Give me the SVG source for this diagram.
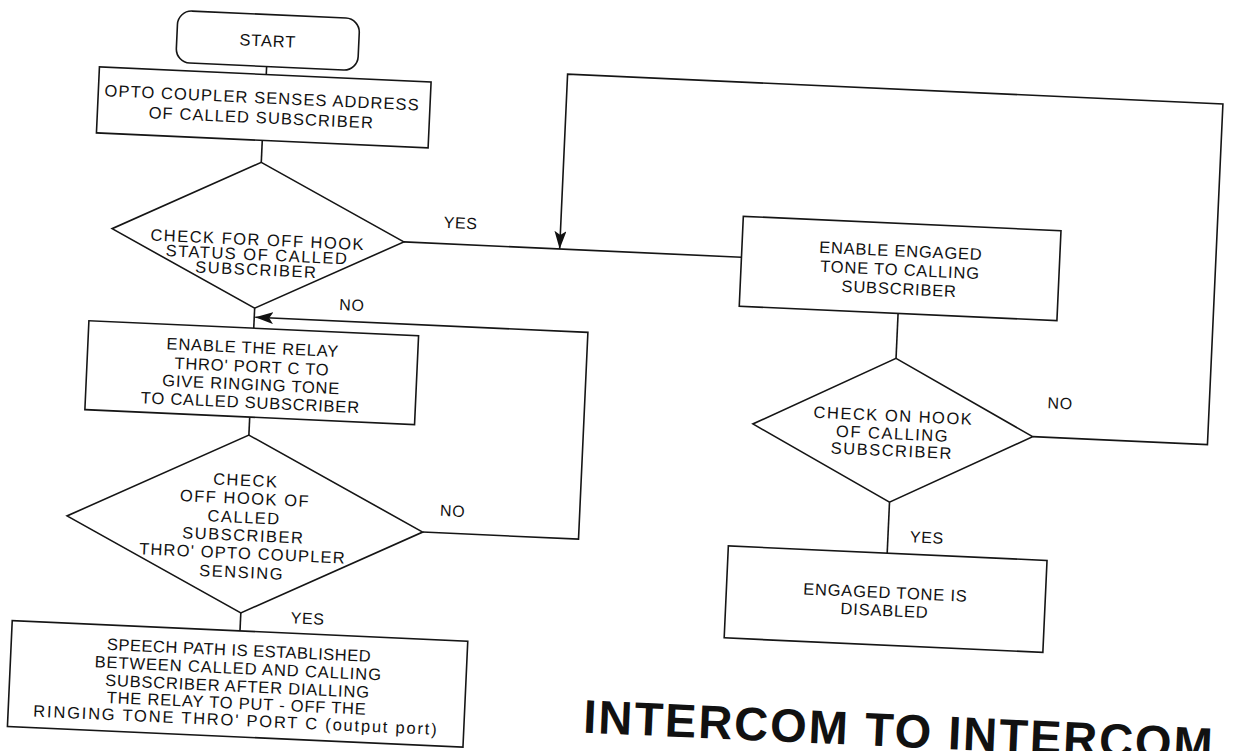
<svg xmlns="http://www.w3.org/2000/svg" width="1246" height="751" viewBox="0 0 1246 751">
  <defs>
    <style>
      .box { fill: none; stroke: #151515; stroke-width: 1.6; }
      .ln { fill: none; stroke: #151515; stroke-width: 1.6; }
      .t { font-family: "Liberation Sans", Arial, sans-serif; font-size: 16.5px; fill: #111; text-anchor: middle; letter-spacing: 0.8px; }
      .dt { letter-spacing: 1.5px; }
      .lbl { font-family: "Liberation Sans", Arial, sans-serif; font-size: 16px; fill: #111; text-anchor: middle; letter-spacing: 0.6px; }
      .title { font-family: "Liberation Sans", Arial, sans-serif; font-size: 47px; font-weight: bold; fill: #111; letter-spacing: 2px; }
    </style>
    <marker id="arrow" viewBox="0 0 18 12" refX="18" refY="6" markerWidth="18" markerHeight="12" markerUnits="userSpaceOnUse" orient="auto">
      <path d="M0,0 L18,6 L0,12 L4,6 z" fill="#111"/>
    </marker>
  </defs>
  <rect x="0" y="0" width="1246" height="751" fill="#ffffff"/>
  <g transform="rotate(2.6 623 375)">
    <g id="connectors">
      <line class="ln" x1="253" y1="83" x2="253" y2="91"/>
      <line class="ln" x1="252" y1="157" x2="252" y2="179"/>
      <line class="ln" x1="252" y1="325" x2="252" y2="345"/>
      <line class="ln" x1="252" y1="434" x2="252" y2="452"/>
      <line class="ln" x1="252" y1="630" x2="252" y2="648"/>
      <line class="ln" x1="398" y1="252" x2="736" y2="252"/>
      <line class="ln" x1="895" y1="301" x2="895" y2="346"/>
      <line class="ln" x1="895" y1="490" x2="895" y2="541"/>
      <path class="ln" d="M1035,418 L1210,418 L1210,77 L554,77 L554,252" marker-end="url(#arrow)"/>
      <path class="ln" d="M430,541 L586,541 L586,334 L253,334" marker-end="url(#arrow)"/>
    </g>
    <g id="node-start">
      <rect class="box" x="162" y="31" width="182" height="52" rx="14" ry="14"/>
      <text class="t" x="253" y="63">START</text>
    </g>
    <g id="node-opto">
      <rect class="box" x="86" y="91" width="332" height="66"/>
      <text class="t" x="250" y="120" style="letter-spacing:1.1px">OPTO COUPLER SENSES ADDRESS</text>
      <text class="t" x="250" y="140" style="letter-spacing:1.1px">OF CALLED SUBSCRIBER</text>
    </g>
    <g id="node-d1">
      <polygon class="box" points="252,179 398,252 252,325 106,252"/>
      <text class="t dt" x="252" y="262">CHECK FOR OFF HOOK</text>
      <text class="t dt" x="252" y="277">STATUS OF CALLED</text>
      <text class="t dt" x="252" y="292">SUBSCRIBER</text>
    </g>
    <g id="node-relay">
      <rect class="box" x="87" y="345" width="330" height="89"/>
      <text class="t" x="252" y="370">ENABLE THE RELAY</text>
      <text class="t" x="252" y="389">THRO' PORT C TO</text>
      <text class="t" x="252" y="407">GIVE RINGING TONE</text>
      <text class="t" x="252" y="425">TO CALLED SUBSCRIBER</text>
    </g>
    <g id="node-d3">
      <polygon class="box" points="252,452 430,541 252,630 74,541"/>
      <text class="t dt" x="251" y="503">CHECK</text>
      <text class="t dt" x="251" y="521">OFF HOOK OF</text>
      <text class="t dt" x="251" y="540">CALLED</text>
      <text class="t dt" x="251" y="558">SUBSCRIBER</text>
      <text class="t" x="251" y="576" style="letter-spacing:1.2px">THRO' OPTO COUPLER</text>
      <text class="t dt" x="251" y="595">SENSING</text>
    </g>
    <g id="node-speech">
      <rect class="box" x="24" y="648" width="456" height="106"/>
      <text class="t" x="252" y="673" style="letter-spacing:0.5px">SPEECH PATH IS ESTABLISHED</text>
      <text class="t" x="252" y="691" style="letter-spacing:0.9px">BETWEEN CALLED AND CALLING</text>
      <text class="t" x="252" y="709">SUBSCRIBER AFTER DIALLING</text>
      <text class="t" x="252" y="726">THE RELAY TO PUT - OFF THE</text>
      <text class="t" x="252" y="743" style="letter-spacing:1.8px">RINGING TONE THRO' PORT C (output port)</text>
    </g>
    <g id="node-engaged">
      <rect class="box" x="736" y="211" width="318" height="90"/>
      <text class="t" x="895" y="244">ENABLE ENGAGED</text>
      <text class="t" x="895" y="263">TONE TO CALLING</text>
      <text class="t" x="895" y="282">SUBSCRIBER</text>
    </g>
    <g id="node-d2">
      <polygon class="box" points="895,346 1035,418 895,490 755,418"/>
      <text class="t dt" x="895" y="409">CHECK ON HOOK</text>
      <text class="t dt" x="895" y="427">OF CALLING</text>
      <text class="t dt" x="895" y="444">SUBSCRIBER</text>
    </g>
    <g id="node-disabled">
      <rect class="box" x="736" y="541" width="319" height="92"/>
      <text class="t" x="895" y="586">ENGAGED TONE IS</text>
      <text class="t" x="895" y="604">DISABLED</text>
    </g>
    <g id="labels">
      <text class="lbl" x="454" y="236">YES</text>
      <text class="lbl" x="349" y="323">NO</text>
      <text class="lbl" x="459" y="524">NO</text>
      <text class="lbl" x="319" y="638">YES</text>
      <text class="lbl" x="1061" y="389">NO</text>
      <text class="lbl" x="934" y="529">YES</text>
    </g>
    <g id="title">
      <text class="title" x="599" y="734">INTERCOM TO INTERCOM</text>
    </g>
  </g>
</svg>
